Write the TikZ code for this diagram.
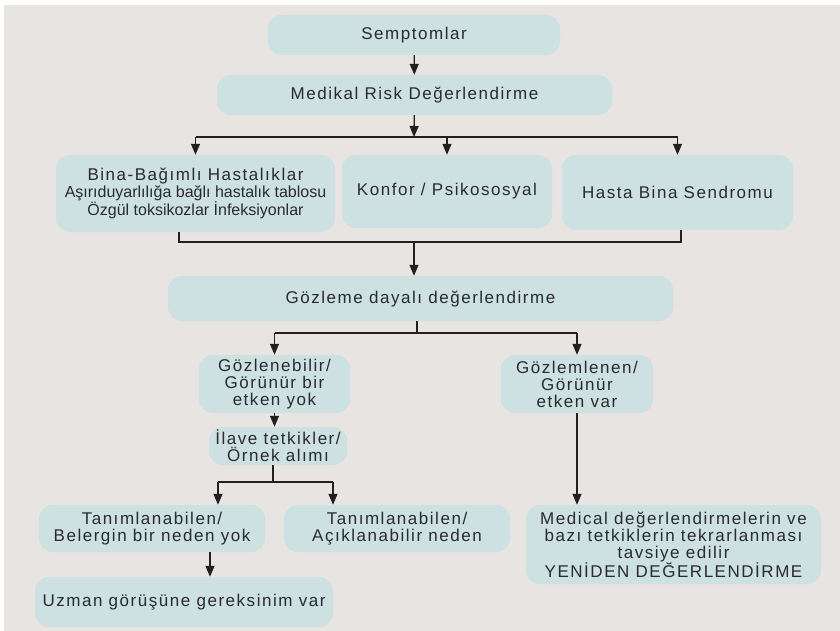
\documentclass[tikz,border=0pt]{standalone}
\usepackage{fontspec}
\setmainfont{Liberation Sans}[LetterSpace=9]
\newfontfamily\plainsans{Liberation Sans}
\usepackage{tikz}
\usetikzlibrary{arrows.meta}
\definecolor{bgcol}{HTML}{E8E4E1}
\definecolor{boxcol}{HTML}{CDE0E2}
\definecolor{linecol}{HTML}{231F20}
\definecolor{txtcol}{HTML}{2B2B2B}
\tikzset{box/.style={fill=boxcol, text=txtcol, rounded corners=14pt, align=center, inner sep=0pt, font=\fontsize{17}{17}\selectfont}}
\tikzset{arr/.style={draw=linecol, line width=1.3pt, -{Triangle[length=11pt,width=9pt]}}}
\tikzset{ln/.style={draw=linecol, line width=1.3pt}}
\tikzset{s/.style={font=\fontsize{17}{17}\selectfont}}

\begin{document}
\begin{tikzpicture}[x=1pt,y=-1pt]
            \useasboundingbox (0,0) rectangle (840,631);
            \fill[bgcol] (4,5) rectangle (840,631);
            % top
            \node[box, minimum width=292pt, minimum height=40pt] (sym) at (414,35) {Semptomlar};
            \node[box, minimum width=395pt, minimum height=40pt] (med) at (414.5,95) {Medikal Risk Değerlendirme};
            \draw[arr] (sym) -- (med);
            % three groups
            \node[box, minimum width=279pt, minimum height=77pt] (bina) at (195.5,193.5)
              {{\fontsize{17}{17}\selectfont Bina-Bağımlı Hastalıklar}\\
               {\plainsans\fontsize{16}{16}\selectfont Aşırıduyarlılığa bağlı hastalık tablosu}\\
               {\plainsans\fontsize{16}{16}\selectfont Özgül toksikozlar İnfeksiyonlar}};
            \node[box, minimum width=210pt, minimum height=73pt] (konfor) at (447,191.5) {Konfor / Psikososyal};
            \node[box, minimum width=231pt, minimum height=75pt] (hasta) at (677.5,192.5) {Hasta Bina Sendromu};
            \coordinate (j1) at (414,137);
            \draw[arr] (med) -- (j1);
            \draw[ln] (j1 -| bina) -- (j1 -| hasta);
            \foreach \n in {bina,konfor,hasta}
              \draw[arr] (j1 -| \n) -- (\n);
            % observation
            \node[box, minimum width=505pt, minimum height=45pt] (goz) at (420.5,298.5) {Gözleme dayalı değerlendirme};
            \coordinate (b1) at ([xshift=-16.5pt]bina.south);
            \coordinate (b3) at ([xshift=3.5pt]hasta.south);
            \coordinate (j2) at (414,242);
            \draw[ln] (b1) |- (b3 |- j2) -- (b3);
            \draw[arr] (j2) -- (j2 |- goz.north);
            \node[box, s, minimum width=151pt, minimum height=58pt] (gob) at (274.5,384) {Gözlenebilir/\\Görünür bir\\etken yok};
            \node[box, s, minimum width=152pt, minimum height=58pt] (gom) at (577,384) {Gözlemlenen/\\Görünür\\etken var};
            \coordinate (j3) at (417,333);
            \draw[ln] (goz.south -| j3) -- (j3);
            \draw[ln] (j3 -| gob) -- (j3 -| gom);
            \draw[arr] (j3 -| gob) -- (gob);
            \draw[arr] (j3 -| gom) -- (gom);
            % left branch
            \node[box, s, minimum width=138pt, minimum height=38pt] (ilave) at (278,446) {İlave tetkikler/\\Örnek alımı};
            \draw[arr] (gob.south) -- (gob.south |- ilave.north);
            \node[box, s, minimum width=226pt, minimum height=47pt] (tan1) at (152,528.5) {Tanımlanabilen/\\Belergin bir neden yok};
            \node[box, s, minimum width=226pt, minimum height=47pt] (tan2) at (397,528.5) {Tanımlanabilen/\\Açıklanabilir neden};
            \coordinate (j4) at (273,482);
            \coordinate (t1) at ([xshift=66pt]tan1.north);
            \coordinate (t2) at ([xshift=-64pt]tan2.north);
            \draw[ln] (ilave.south -| j4) -- (j4);
            \draw[ln] (j4 -| t1) -- (j4 -| t2);
            \draw[arr] (j4 -| t1) -- (t1);
            \draw[arr] (j4 -| t2) -- (t2);
            \node[box, minimum width=298pt, minimum height=50pt] (uzman) at (184,602) {Uzman görüşüne gereksinim var};
            \coordinate (u1) at ([xshift=58pt]tan1.south);
            \draw[arr] (u1) -- (u1 |- uzman.north);
            % right branch
            \node[box, minimum width=295pt, minimum height=79pt] (medical) at (673.5,544.5)
              {Medical değerlendirmelerin ve\\bazı tetkiklerin tekrarlanması\\tavsiye edilir\\YENİDEN DEĞERLENDİRME};
            \draw[arr] (gom) -- (gom |- medical.north);
          \end{tikzpicture}
\end{document}
